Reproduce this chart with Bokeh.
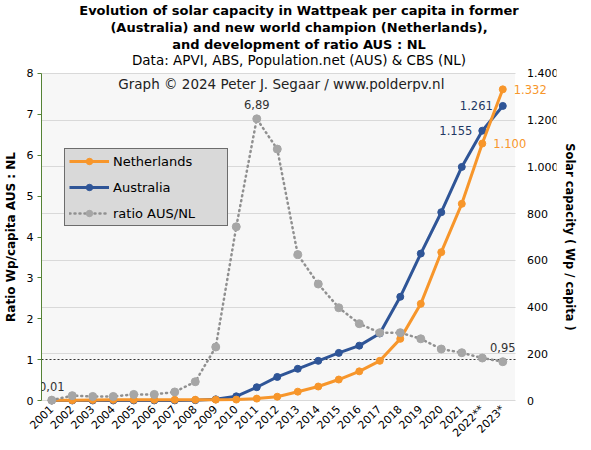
from math import pi

from bokeh.embed import file_html
from bokeh.models import (BoxAnnotation, ColumnDataSource, FixedTicker, Grid,
                          Label, Legend, LegendItem, LinearAxis, Range1d, Title)
from bokeh.plotting import figure
from bokeh.resources import INLINE

FONT = "DejaVu Sans"

years = ["2001", "2002", "2003", "2004", "2005", "2006", "2007", "2008",
         "2009", "2010", "2011", "2012", "2013", "2014", "2015", "2016",
         "2017", "2018", "2019", "2020", "2021", "2022**", "2023*"]

# Wp per capita
nl_wp = [0.9, 1.3, 2.8, 3.0, 3.1, 3.2, 3.3, 3.5, 3.9, 4.2, 8.3, 16.4,
         38, 60, 90, 125, 170, 264, 414, 635, 842, 1100, 1332]
aus_wp = [0.01, 0.15, 0.3, 0.3, 0.45, 0.5, 0.7, 1.6, 5.1, 18, 57, 101,
          136, 170, 204, 235, 287, 444, 629, 806, 1000, 1155, 1261]
# ratio AUS : NL
ratio = [0.01, 0.12, 0.10, 0.10, 0.15, 0.15, 0.21, 0.46, 1.31, 4.25, 6.89, 6.15,
         3.57, 2.85, 2.27, 1.88, 1.66, 1.66, 1.51, 1.26, 1.17, 1.04, 0.95]

left_ticks = [0, 1, 2, 3, 4, 5, 6, 7, 8]
right_ticks = [0, 200, 400, 600, 800, 1000, 1200, 1400]

title_lines = ["Evolution of solar capacity in Wattpeak per capita in former",
               "(Australia) and new world champion (Netherlands),",
               "and development of ratio AUS : NL"]
subtitle = "Data: APVI, ABS, Population.net (AUS) & CBS (NL)"
credit = "Graph \u00a9 2024 Peter J. Segaar / www.polderpv.nl"

ORANGE = "#f7962b"
BLUE = "#2f5597"
GREY = "#a6a6a6"

idx = list(range(len(years)))
src = ColumnDataSource(dict(i=idx, nl=nl_wp, aus=aus_wp, ratio=ratio))

# the frame is a little larger than the grey plot area so that labels
# drawn next to it are not clipped
x_lo = -0.5
x_hi = len(years) - 0.4
y_top = left_ticks[-1]
wp_top = right_ticks[-1]
pad = 0.17
k = wp_top / y_top

p = figure(x_range=Range1d(x_lo, 24.62), y_range=Range1d(-pad, y_top + pad),
           frame_width=515, frame_height=341,
           min_border_left=37, min_border_right=20,
           min_border_top=61, min_border_bottom=38,
           output_backend="svg", toolbar_location=None,
           background_fill_color="white", border_fill_color="white",
           outline_line_color=None)
p.extra_y_ranges = {"wp": Range1d(-pad * k, wp_top + pad * k)}

# titles (first added sits closest to the plot)
p.add_layout(Title(text=subtitle, align="center", text_font=FONT,
                   text_font_size="13.5px", text_font_style="normal",
                   text_color="black", standoff=-3), "above")
for line in reversed(title_lines):
    p.add_layout(Title(text=line, align="center", text_font=FONT,
                       text_font_size="13px", text_font_style="bold",
                       text_color="black", standoff=0), "above")

# grey plot area
p.add_layout(BoxAnnotation(left=x_lo, right=x_hi, bottom=0, top=y_top,
                           fill_color="#f7f7f7", fill_alpha=1, line_color=None,
                           level="underlay"))

# grid follows the right axis
p.xgrid.visible = False
p.ygrid.visible = False
p.add_layout(Grid(dimension=1, ticker=FixedTicker(ticks=right_ticks[1:]),
                  y_range_name="wp", grid_line_color="#d9d9d9",
                  cross_bounds=(x_lo, x_hi)))
# bottom axis line
p.add_layout(Grid(dimension=1, ticker=FixedTicker(ticks=[0]),
                  grid_line_color="#d9d9d9", cross_bounds=(x_lo, x_hi)))
# ratio = 1 reference line
p.add_layout(Grid(dimension=1, ticker=FixedTicker(ticks=[1]),
                  grid_line_color="#333333", grid_line_dash="2 2",
                  cross_bounds=(x_lo, x_hi)))

# axes
p.yaxis.ticker = FixedTicker(ticks=left_ticks)
p.yaxis.bounds = (0, y_top)
p.yaxis.axis_label = "Ratio Wp/capita AUS : NL"
p.yaxis.axis_line_color = "#548235"
p.yaxis.major_tick_line_color = "#548235"
p.yaxis.major_tick_out = 4
p.yaxis.major_tick_in = 0
p.yaxis.minor_tick_line_color = None
p.yaxis.major_label_standoff = 4
p.yaxis.axis_label_standoff = 6

right = LinearAxis(y_range_name="wp", ticker=FixedTicker(ticks=[]),
                   axis_label="Solar capacity ( Wp / capita )")
right.axis_line_color = None
right.major_tick_line_color = None
right.minor_tick_line_color = None
right.major_tick_out = 0
right.major_label_standoff = 0
right.axis_label_standoff = 6
p.add_layout(right, "right")

p.xaxis.ticker = FixedTicker(ticks=idx)
p.xaxis.major_label_overrides = {i: y for i, y in zip(idx, years)}
p.xaxis.major_label_orientation = pi / 4
p.xaxis.axis_line_color = None
p.xaxis.major_tick_line_color = None
p.xaxis.minor_tick_line_color = None
p.xaxis.major_tick_out = 0
p.xaxis.major_label_standoff = 0

for ax in [p.yaxis[0], right, p.xaxis[0]]:
    ax.major_label_text_font = FONT
    ax.major_label_text_font_size = "11px"
    ax.major_label_text_color = "black"
    ax.axis_label_text_font = FONT
    ax.axis_label_text_font_style = "bold"
    ax.axis_label_text_color = "black"
p.yaxis.axis_label_text_font_size = "12px"
right.axis_label_text_font_size = "11.5px"

# right tick labels, just after the grey plot area
for t in right_ticks:
    txt = f"{t:,}".replace(",", ".")
    p.add_layout(Label(x=x_hi, y=t, y_range_name="wp", text=txt, x_offset=12,
                       text_align="left", text_baseline="middle",
                       text_font=FONT, text_font_size="11px", text_color="black"))

# series
aus_line = p.line("i", "aus", source=src, y_range_name="wp",
                  line_color=BLUE, line_width=3)
aus_pts = p.scatter("i", "aus", source=src, y_range_name="wp", size=7,
                    fill_color=BLUE, line_color=BLUE)
nl_line = p.line("i", "nl", source=src, y_range_name="wp",
                 line_color=ORANGE, line_width=3)
nl_pts = p.scatter("i", "nl", source=src, y_range_name="wp", size=7,
                   fill_color=ORANGE, line_color=ORANGE)
r_line = p.line("i", "ratio", source=src, line_color="#909090",
                line_width=2.5, line_dash="1 4", line_cap="round")
r_pts = p.scatter("i", "ratio", source=src, size=8,
                  fill_color=GREY, line_color=GREY)

# credit line
p.add_layout(Label(x=11.2, y=7.75, text=credit, text_font=FONT,
                   text_font_size="13.5px", text_align="center",
                   text_baseline="middle", text_color="#222222"))


# value labels
def dec(v):
    return f"{v:.2f}".replace(".", ",")


def thou(v):
    return f"{v:,}".replace(",", ".")


for i in [0, 10, 22]:
    p.add_layout(Label(x=idx[i], y=ratio[i], text=dec(ratio[i]),
                       text_align="center", text_baseline="middle", y_offset=14,
                       text_font=FONT, text_font_size="11.5px", text_color="#333333"))

for i in [21, 22]:
    p.add_layout(Label(x=idx[i], y=nl_wp[i], y_range_name="wp", text=thou(nl_wp[i]),
                       text_align="left", text_baseline="middle", x_offset=11,
                       text_font=FONT, text_font_size="11.5px", text_color=ORANGE))
    p.add_layout(Label(x=idx[i], y=aus_wp[i], y_range_name="wp", text=thou(aus_wp[i]),
                       text_align="right", text_baseline="middle", x_offset=-10,
                       text_font=FONT, text_font_size="11.5px", text_color="#1f3864"))

legend = Legend(items=[LegendItem(label="Netherlands", renderers=[nl_line, nl_pts]),
                       LegendItem(label="Australia", renderers=[aus_line, aus_pts]),
                       LegendItem(label="ratio AUS/NL", renderers=[r_line, r_pts])],
                location=(23, 181), orientation="vertical",
                background_fill_color="#d9d9d9", background_fill_alpha=1,
                border_line_color="black", border_line_width=1,
                label_text_font=FONT, label_text_font_size="13px",
                label_text_color="black",
                glyph_width=40, glyph_height=16, label_height=16,
                label_width=110, label_standoff=4, spacing=10, padding=4, margin=0)
p.add_layout(legend)

open("out.html", "w").write(file_html(p, INLINE))
